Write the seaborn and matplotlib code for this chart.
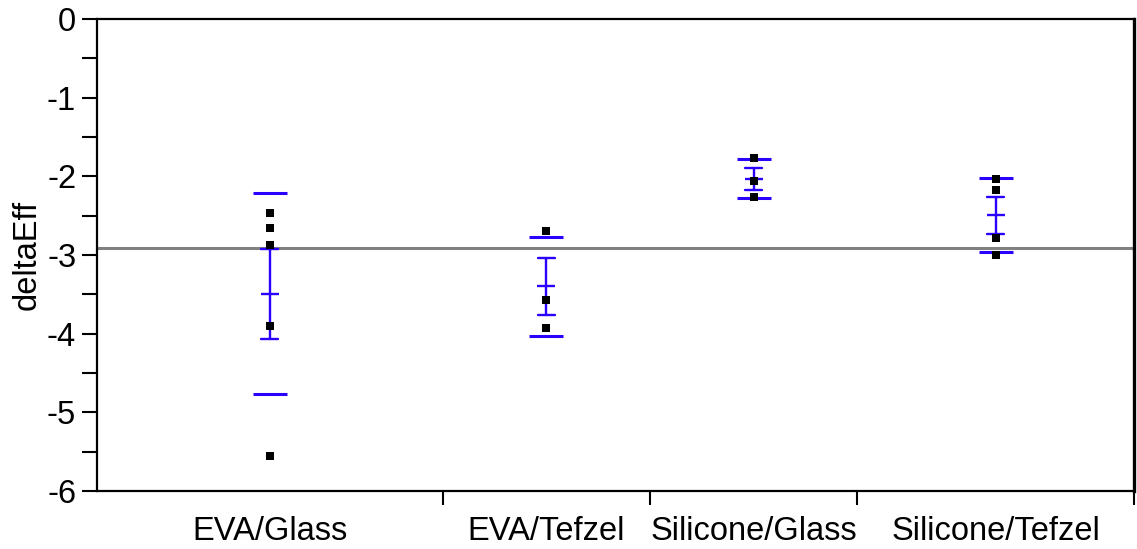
import numpy as np
import pandas as pd
import matplotlib
matplotlib.use("Agg")
import matplotlib.pyplot as plt
import seaborn as sns

# ---- data ----
categories = ["EVA/Glass", "EVA/Tefzel", "Silicone/Glass", "Silicone/Tefzel"]
eva_glass = [-2.47, -2.66, -2.87, -3.90, -5.56]
eva_tefzel = [-2.70, -3.57, -3.93]
silicone_glass = [-1.77, -2.06, -2.26]
silicone_tefzel = [-2.03, -2.17, -2.79, -3.00]
y_ticks = [0, -1, -2, -3, -4, -5, -6]

groups = [eva_glass, eva_tefzel, silicone_glass, silicone_tefzel]

# group widths proportional to group size (JMP style)
counts = np.array([len(g) for g in groups])
edges = np.concatenate([[0], np.cumsum(counts)])
centers = (edges[:-1] + edges[1:]) / 2

df = pd.DataFrame({
    "group": np.repeat(categories, counts),
    "pos": np.repeat(centers, counts),
    "deltaEff": np.concatenate(groups),
})

sns.set_theme(style="white")
plt.rcParams["font.family"] = ["Liberation Sans", "DejaVu Sans"]
plt.rcParams["text.color"] = "black"
plt.rcParams["axes.labelcolor"] = "black"
plt.rcParams["xtick.color"] = "black"
plt.rcParams["ytick.color"] = "black"

BLUE = "#2a00ff"
FS = 23.5
fig = plt.figure(figsize=(11.37, 5.49), dpi=100)
ax = fig.add_axes([97 / 1137, 1 - 491 / 549, (1134 - 97) / 1137, (491 - 19) / 549])

# grand mean line
ax.axhline(df["deltaEff"].mean(), color="#808080", lw=2.2, zorder=1)

# std-dev lines
stats = df.groupby("pos")["deltaEff"].agg(["mean", "std"]).reset_index()
half = 0.245
ax.hlines(stats["mean"] + stats["std"], stats["pos"] - half, stats["pos"] + half,
          color=BLUE, lw=2.2, zorder=2)
ax.hlines(stats["mean"] - stats["std"], stats["pos"] - half, stats["pos"] + half,
          color=BLUE, lw=2.2, zorder=2)

# mean +/- standard error
sns.pointplot(data=df, x="pos", y="deltaEff", native_scale=True, errorbar="se",
              capsize=0.082, linestyle="none", marker="_", markersize=12.5,
              markeredgewidth=1.7, err_kws={"linewidth": 1.7}, color=BLUE,
              ax=ax, zorder=3)

# raw points
sns.stripplot(data=df, x="pos", y="deltaEff", native_scale=True, jitter=False,
              marker="s", size=5.2, color="black", linewidth=0, ax=ax, zorder=4)

ax.set_xlim(edges[0], edges[-1])
ax.set_ylim(-6, 0)
ax.set_yticks(y_ticks)
ax.set_yticklabels([str(t) for t in y_ticks])
ax.set_yticks(np.arange(-5.5, 0, 1.0), minor=True)
ax.tick_params(axis="y", which="both", direction="out", length=11, width=1.5,
               color="black", labelcolor="black", labelsize=FS, pad=4, left=True)

ax.set_xticks(edges[1:])
ax.set_xticklabels([])
ax.set_xticks(centers, minor=True)
ax.set_xticklabels(categories, minor=True)
ax.tick_params(axis="x", which="major", direction="out", length=10, width=1.5,
               color="black", bottom=True)
ax.tick_params(axis="x", which="minor", length=0, labelsize=FS, pad=18,
               labelcolor="black")

ax.set_xlabel("")
ax.set_ylabel("deltaEff", fontsize=FS, labelpad=3, color="black")

for name, sp in ax.spines.items():
    sp.set_color("black")
    sp.set_linewidth(1.6)
ax.spines["right"].set_linewidth(2.4)

fig.savefig("out.png", dpi=100, facecolor="white")
